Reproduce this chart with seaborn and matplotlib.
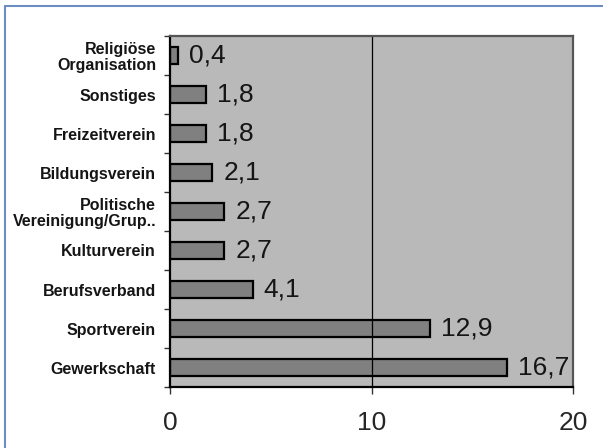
import matplotlib
matplotlib.use('Agg')
import matplotlib.pyplot as plt
import pandas as pd
import seaborn as sns
from matplotlib.lines import Line2D

categories = ['Religiöse\nOrganisation', 'Sonstiges', 'Freizeitverein', 'Bildungsverein',
              'Politische\nVereinigung/Grup..', 'Kulturverein', 'Berufsverband',
              'Sportverein', 'Gewerkschaft']
values = [0.4, 1.8, 1.8, 2.1, 2.7, 2.7, 4.1, 12.9, 16.7]
x_ticks = [0, 10, 20]

sns.set_style('white')
plt.rcParams['font.family'] = ['Liberation Sans', 'DejaVu Sans']

df = pd.DataFrame({'kategorie': categories, 'anteil': values})


def main():
    fig = plt.figure(figsize=(6.03, 4.48), dpi=100)
    ax = fig.add_axes([170 / 603, 1 - 387 / 448, (573 - 170) / 603, (387 - 36) / 448])
    ax.set_facecolor('#b9b9b9')

    sns.barplot(data=df, y='kategorie', x='anteil', orient='h', color='#808080',
                saturation=1, width=0.42, edgecolor='black', linewidth=1.6, ax=ax)

    # Wertebeschriftung rechts neben den Balken
    for i, v in enumerate(values):
        ax.text(v + 0.55, i, f'{v:.1f}'.replace('.', ','), va='center', ha='left',
                fontsize=19, color='#151515')

    ax.set_xlim(0, 20)
    ax.set_ylim(len(categories) - 0.5, -0.5)
    ax.set_xticks(x_ticks)
    ax.set_xticklabels([str(t) for t in x_ticks], fontsize=19)
    ax.axvline(10, color='black', linewidth=0.9)

    # Tick-Striche zwischen den Kategorien
    ax.set_yticks([i for i in range(len(categories))])
    ax.set_yticklabels(categories, fontsize=11.5, fontweight='bold', linespacing=1.1,
                       color='#151515')
    ax.set_yticks([i + 0.5 for i in range(-1, len(categories))], minor=True)
    ax.tick_params(axis='y', which='major', length=0, pad=10)
    ax.tick_params(axis='y', which='minor', length=4, width=1, color='#333333', direction='out', left=True)
    ax.tick_params(axis='x', length=5, width=1, color='#333333', direction='out', bottom=True, pad=12)

    ax.set_xlabel('')
    ax.set_ylabel('')
    for s in ['left', 'bottom']:
        ax.spines[s].set_color('black')
        ax.spines[s].set_linewidth(1.6)
    for s in ['top', 'right']:
        ax.spines[s].set_color('#555555')
        ax.spines[s].set_linewidth(1.6)

    # blauer Rahmen links und oben
    fig.add_artist(Line2D([4.5 / 603, 4.5 / 603], [0, 1 - 6 / 448], color='#6d8cc4',
                          linewidth=1.5, transform=fig.transFigure))
    fig.add_artist(Line2D([4.5 / 603, 1], [1 - 6 / 448, 1 - 6 / 448], color='#6d8cc4',
                          linewidth=1.5, transform=fig.transFigure))

    fig.savefig('out.png', dpi=100)


if __name__ == '__main__':
    main()
